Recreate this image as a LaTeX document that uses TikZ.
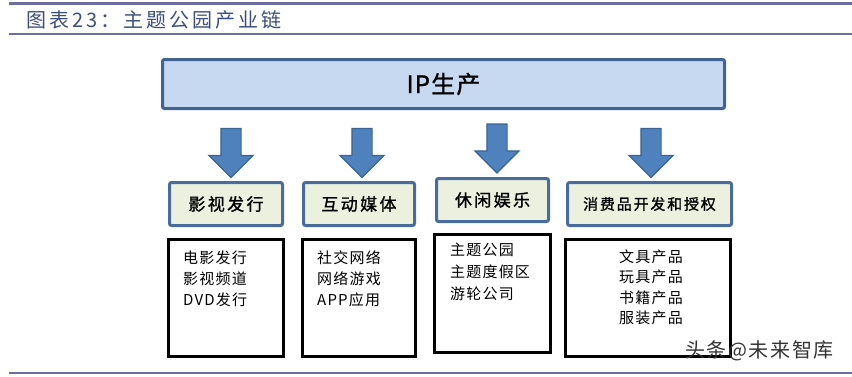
\documentclass[tikz,border=0pt]{standalone}
\usepackage{fontspec}
\setmainfont{Noto Sans CJK SC}
\newfontfamily\catfont{Noto Sans CJK SC}[FakeBold=1.2]
\usepackage{tikz}
\usetikzlibrary{arrows.meta,positioning,shapes.arrows}
\usepackage{xcolor}
\definecolor{rulecol}{HTML}{6E6E9E}
\definecolor{titlecol}{HTML}{3D4E7E}
\definecolor{ipfill}{HTML}{C6D9F1}
\definecolor{ipline}{HTML}{3F6494}
\definecolor{arrfill}{HTML}{4F81BD}
\definecolor{arrline}{HTML}{3A6592}
\definecolor{catfill}{HTML}{EBF1DE}
\definecolor{catline}{HTML}{4A6C9C}

\begin{document}
\begin{tikzpicture}[x=1pt,y=-1pt,
rulebar/.style={draw=rulecol,line width=3pt},
ipbox/.style={rectangle,draw=ipline,fill=ipfill,line width=3pt,rounded corners=2pt,minimum width=562pt,minimum height=49pt,font=\catfont\fontsize{24}{24}\selectfont\addfontfeature{LetterSpace=5}},
blockarr/.style={single arrow,draw=arrline,fill=arrfill,line width=1.2pt,shape border rotate=270,inner sep=9.5pt,single arrow head extend=12pt,minimum height=49pt},
catbox/.style={rectangle,draw=catline,fill=catfill,line width=3pt,rounded corners=2pt,minimum height=43pt,font=\catfont\fontsize{17}{17}\selectfont\addfontfeature{LetterSpace=14}},
listbox/.style={rectangle,draw=black,line width=3pt,minimum height=117pt},
listtext/.style={align=left,inner sep=0pt,anchor=base west,font=\fontsize{15}{21}\selectfont\addfontfeature{LetterSpace=8}}
]
\useasboundingbox (0,0) rectangle (852,376);

% header
\draw[rulebar] (9,3.5) -- (852,3.5);
\node[anchor=base west,inner sep=0pt,text=titlecol,font=\fontsize{20}{20}\selectfont\addfontfeature{LetterSpace=15}] (title) at (26,27.5) {图表23：主题公园产业链};
\draw[rulebar,line width=2pt] (9,34) -- (852,34);

\node[ipbox] (ip) at (443.5,84) {IP生产};

\node[blockarr] (arrA) at (231,148) {};
\node[blockarr] (arrB) at (362,148) {};
\node[blockarr] (arrC) at (497,143.5) {};
\node[blockarr] (arrD) at (651,148) {};

\node[catbox,minimum width=113pt] (film) at (226,204) {影视发行};
\node[catbox,minimum width=111pt] (media) at (359,204) {互动媒体};
\node[catbox,minimum width=112pt] (leisure) at (492.5,200) {休闲娱乐};
\node[catbox,minimum width=164pt,font=\catfont\fontsize{15}{15}\selectfont\addfontfeature{LetterSpace=12}] (goods) at (649.5,204) {消费品开发和授权};

\node[listbox,minimum width=115pt] (filmlist) at (226,298) {};
\node[listbox,minimum width=113pt] (medialist) at (359,298) {};
\node[listbox,minimum width=116pt,minimum height=118pt] (leisurelist) at (492.5,293.5) {};
\node[listbox,minimum width=165pt] (goodslist) at (648,298) {};

% base anchor sits on the last line
\node[listtext] (filmtext) at (183,305.5) {电影发行\\影视频道\\DVD发行};
\node[listtext] (mediatext) at (317,305.5) {社交网络\\网络游戏\\APP应用};
\node[listtext,font=\fontsize{15}{22}\selectfont\addfontfeature{LetterSpace=8}] (leisuretext) at (450,299.5) {主题公园\\主题度假区\\游轮公司};
\node[listtext,align=center,anchor=base,font=\fontsize{15}{20.3}\selectfont\addfontfeature{LetterSpace=8}] (goodstext) at (651,323.5) {文具产品\\玩具产品\\书籍产品\\服装产品};

\node[anchor=base west,inner sep=0pt,text=black!80,font=\fontsize{20}{20}\selectfont\addfontfeature{LetterSpace=8}] (mark) at (685,357) {头条@未来智库};

\draw[rulebar,line width=2.5pt] (9,373) -- (852,373);
\end{tikzpicture}
\end{document}
